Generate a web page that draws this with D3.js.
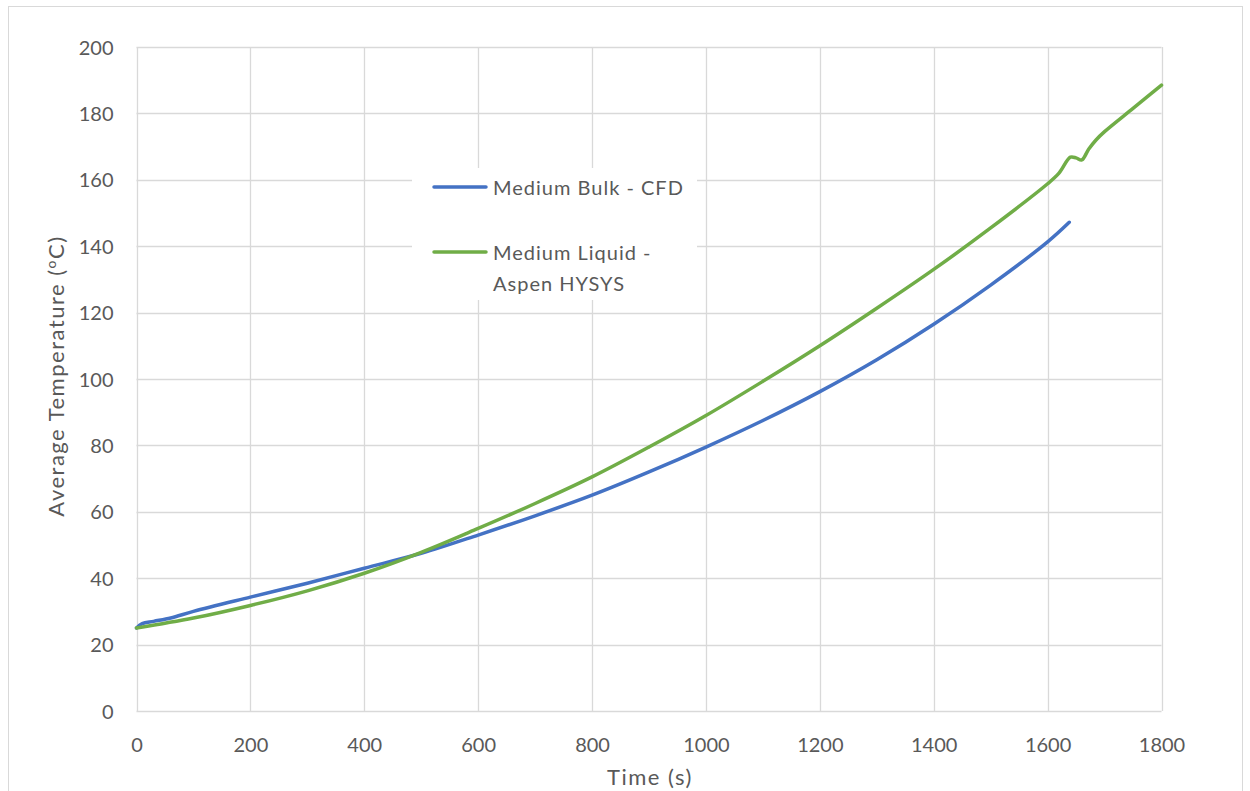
<!DOCTYPE html>
<html>
<head>
<meta charset="utf-8">
<script src="https://cdn.jsdelivr.net/npm/d3@7"></script>
<style>
  html, body { margin: 0; padding: 0; background: #fff; }
  svg { display: block; }
  text { font-family: Lato, "Open Sans", sans-serif; fill: #595959; }
</style>
</head>
<body>
<svg id="chart" width="1250" height="791"></svg>
<script>
// Medium Bulk - CFD: time (s) and average temperature (°C)
const cfdTime = [0, 10, 30, 60, 100, 200, 300, 400, 500, 600, 700, 800, 900, 1000, 1100, 1200, 1300, 1400, 1500, 1600, 1638];
const cfdTemp = [25, 26.3, 27, 28, 30, 34.3, 38.5, 43, 47.5, 53, 58.8, 65, 72, 79.5, 87.5, 96.2, 105.8, 116.5, 128.3, 141.3, 147.2];

// Medium Liquid - Aspen HYSYS
const hysysTime = [0, 100, 200, 300, 400, 500, 600, 700, 800, 900, 1000, 1100, 1200, 1300, 1400, 1500, 1600, 1620, 1640, 1650, 1660, 1672, 1685, 1700, 1750, 1800];
const hysysTemp = [25, 28, 31.8, 36.2, 41.5, 47.8, 55, 62.5, 70.5, 79.5, 89, 99.3, 110, 121.3, 133, 145.5, 158.8, 162, 166.8, 166.6, 166, 169.2, 172, 174.5, 181.5, 188.5];

const seriesNames = ["Medium Bulk - CFD", "Medium Liquid - Aspen HYSYS"];
const seriesColors = ["#4472C4", "#70AD47"];

const xTicks = [0, 200, 400, 600, 800, 1000, 1200, 1400, 1600, 1800];
const yTicks = [0, 20, 40, 60, 80, 100, 120, 140, 160, 180, 200];

const svg = d3.select("#chart");

// chart frame
svg.append("rect")
  .attr("x", 8.5).attr("y", 6.5)
  .attr("width", 1234).attr("height", 800)
  .attr("fill", "#fff").attr("stroke", "#d9d9d9").attr("stroke-width", 1);

const x = d3.scaleLinear().domain([0, 1800]).range([136.5, 1161.5]);
const y = d3.scaleLinear().domain([0, 200]).range([711, 47]);

// gridlines
const grid = svg.append("g");
grid.selectAll("line.h").data(yTicks).join("line")
  .attr("x1", x(0)).attr("x2", x(1800))
  .attr("y1", d => Math.round(y(d)) + 0.5).attr("y2", d => Math.round(y(d)) + 0.5)
  .attr("stroke", "#d9d9d9").attr("stroke-width", 1.3);
grid.selectAll("line.v").data(xTicks).join("line")
  .attr("y1", y(0)).attr("y2", y(200))
  .attr("x1", d => Math.round(x(d)) + 0.5).attr("x2", d => Math.round(x(d)) + 0.5)
  .attr("stroke", "#d9d9d9").attr("stroke-width", 1.3);

// axes (labels only; gridlines serve as the axis lines)
const xAxis = d3.axisBottom(x).tickValues(xTicks).tickSize(0).tickPadding(0).tickFormat(d3.format("d"));
svg.append("g").attr("transform", `translate(0, ${y(0)})`).call(xAxis)
  .call(g => g.select(".domain").remove())
  .selectAll("text").attr("dy", null).attr("y", 41)
  .style("font-size", "20px").attr("fill", "#595959");

const yAxis = d3.axisLeft(y).tickValues(yTicks).tickSize(0).tickPadding(0).tickFormat(d3.format("d"));
svg.append("g").attr("transform", `translate(${x(0)}, 0)`).call(yAxis)
  .call(g => g.select(".domain").remove())
  .selectAll("text").attr("x", -23).attr("dy", "0.35em")
  .style("font-size", "20px").attr("fill", "#595959");

// axis titles
svg.append("text")
  .attr("x", 650).attr("y", 785)
  .attr("text-anchor", "middle")
  .style("font-size", "22px").style("letter-spacing", "1.5px")
  .text("Time (s)");

const yTitle = svg.append("text")
  .attr("transform", "translate(64, 376) rotate(-90)")
  .attr("text-anchor", "middle")
  .style("font-size", "22px").style("letter-spacing", "1.5px");
yTitle.append("tspan").text("Average Temperature (");
yTitle.append("tspan").attr("dy", -8).style("font-size", "14px").text("o");
yTitle.append("tspan").attr("dy", 8).text("C)");

// series lines
const line = d3.line().curve(d3.curveCatmullRom.alpha(0.5));
const series = [
  d3.zip(cfdTime.map(x), cfdTemp.map(y)),
  d3.zip(hysysTime.map(x), hysysTemp.map(y))
];
svg.selectAll("path.series").data(series).join("path")
  .attr("class", "series")
  .attr("d", line)
  .attr("fill", "none")
  .attr("stroke", (d, i) => seriesColors[i])
  .attr("stroke-width", 3.5)
  .attr("stroke-linecap", "round")
  .attr("stroke-linejoin", "round");

// legend
const legend = svg.append("g");
legend.append("rect")
  .attr("x", 412).attr("y", 168).attr("width", 285).attr("height", 132)
  .attr("fill", "#fff");
const legendRows = [
  { y: 187, lines: ["Medium Bulk - CFD"] },
  { y: 252, lines: ["Medium Liquid -", "Aspen HYSYS"] }
];
legendRows.forEach((r, i) => {
  legend.append("line")
    .attr("x1", 434).attr("x2", 486)
    .attr("y1", r.y).attr("y2", r.y)
    .attr("stroke", seriesColors[i]).attr("stroke-width", 3.5)
    .attr("stroke-linecap", "round");
  r.lines.forEach((t, k) => {
    legend.append("text")
      .attr("x", 493).attr("y", r.y + 8 + k * 31)
      .style("font-size", "20px").style("letter-spacing", "1px")
      .text(t);
  });
});
</script>
</body>
</html>
